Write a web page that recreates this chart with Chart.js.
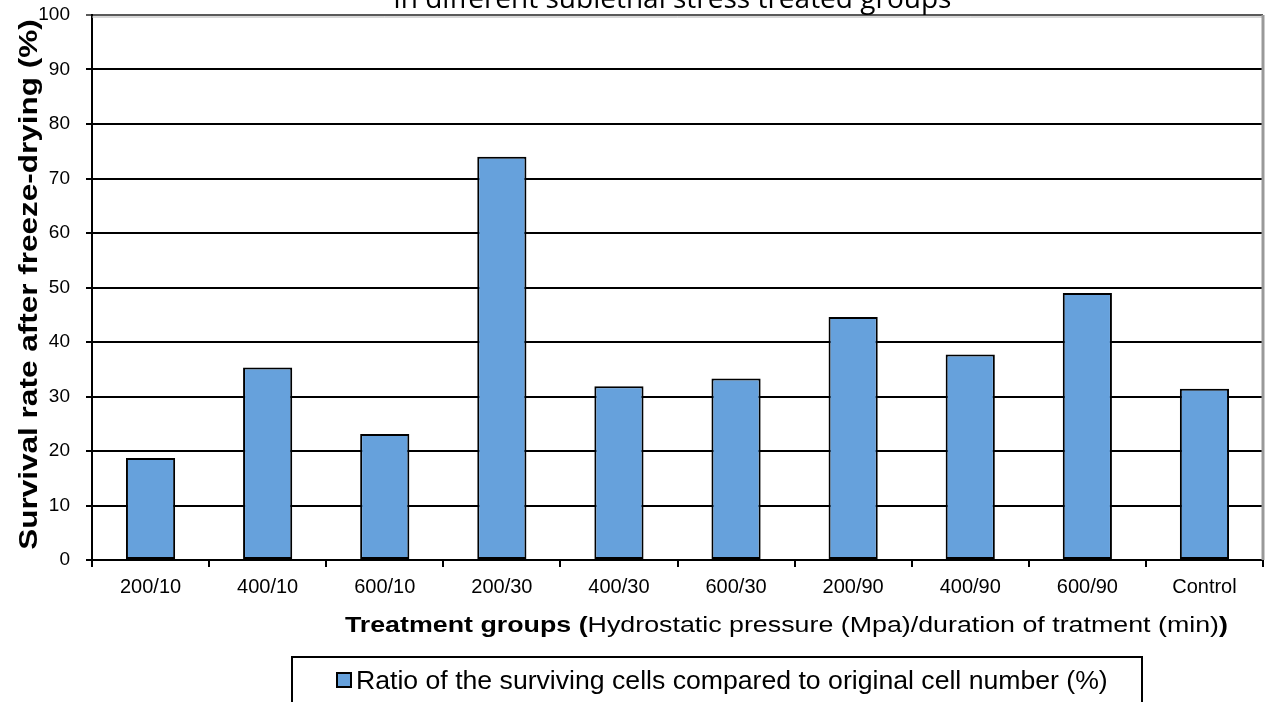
<!DOCTYPE html>
<html>
<head>
<meta charset="utf-8">
<script src="https://cdn.jsdelivr.net/npm/chart.js@4/dist/chart.umd.min.js"></script>
<style>
    html, body { margin: 0; padding: 0; background: #fff; }
    #wrap { width: 1273px; height: 702px; position: relative; }
</style>
</head>
<body>
<div id="wrap"><canvas id="survivalChart"></canvas></div>
<script>
// ========== DATOS ==========
const groups = ['200/10', '400/10', '600/10', '200/30', '400/30', '600/30', '200/90', '400/90', '600/90', 'Control'];
const survival = [18.7, 35.3, 23.1, 74.0, 31.9, 33.3, 44.6, 37.7, 49.0, 31.4];
const yTickValues = [0, 10, 20, 30, 40, 50, 60, 70, 80, 90, 100];
const seriesLabel = 'Ratio of the surviving cells compared to original cell number (%)';
const chartTitle = 'in different sublethal stress treated groups';
const yTitle = 'Survival rate after freeze-drying (%)';
const xTitleParts = [
    { text: 'Treatment groups (', bold: true },
    { text: 'Hydrostatic pressure (Mpa)/duration of tratment (min)', bold: false },
    { text: ')', bold: true }
];

const fuente = "'Liberation Sans', Arial, sans-serif";

// título cortado arriba (sólo se ve la parte baja)
const tituloCortado = {
    id: 'tituloCortado',
    afterDraw(chart) {
        const ctx = chart.ctx;
        const area = chart.chartArea;
        ctx.save();
        ctx.font = "28px 'Open Sans', sans-serif";
        ctx.fillStyle = '#000';
        ctx.textAlign = 'center';
        ctx.textBaseline = 'alphabetic';
        ctx.fillText(chartTitle, (area.left + area.right) / 2 - 5, 8);
        ctx.restore();
    }
};

// borde gris del área de trazado (arriba y derecha)
const bordeArea = {
    id: 'bordeArea',
    afterDraw(chart) {
        const ctx = chart.ctx;
        const area = chart.chartArea;
        ctx.save();
        ctx.strokeStyle = '#b0b0b0';
        ctx.lineWidth = 1;
        ctx.beginPath();
        ctx.moveTo(area.left, area.top + 2);
        ctx.lineTo(area.right, area.top + 2);
        ctx.stroke();
        ctx.strokeStyle = '#999';
        ctx.lineWidth = 3;
        ctx.beginPath();
        ctx.moveTo(area.right, area.top);
        ctx.lineTo(area.right, area.bottom);
        ctx.stroke();
        ctx.restore();
    }
};

// título del eje Y (girado, algo estirado como en el original)
const tituloEjeY = {
    id: 'tituloEjeY',
    afterDraw(chart) {
        const ctx = chart.ctx;
        const area = chart.chartArea;
        ctx.save();
        ctx.translate(30, (area.top + area.bottom) / 2 - 3);
        ctx.rotate(-Math.PI / 2);
        ctx.scale(1.26, 1);
        ctx.font = 'bold 25px ' + fuente;
        ctx.fillStyle = '#000';
        ctx.textAlign = 'center';
        ctx.textBaseline = 'middle';
        ctx.fillText(yTitle, 0, 0);
        ctx.restore();
    }
};

// título del eje X con partes en negrita
const tituloEjeX = {
    id: 'tituloEjeX',
    afterDraw(chart) {
        const ctx = chart.ctx;
        const area = chart.chartArea;
        const size = 22;
        const sx = 1.218;
        ctx.save();
        let total = 0;
        const anchos = xTitleParts.map(p => {
            ctx.font = (p.bold ? 'bold ' : '') + size + 'px ' + fuente;
            const w = ctx.measureText(p.text).width;
            total += w;
            return w;
        });
        ctx.translate(area.left + area.width * 0.593, area.bottom + 66);
        ctx.scale(sx, 1);
        let x = -total / 2;
        ctx.fillStyle = '#000';
        ctx.textBaseline = 'middle';
        ctx.textAlign = 'left';
        xTitleParts.forEach((p, i) => {
            ctx.font = (p.bold ? 'bold ' : '') + size + 'px ' + fuente;
            ctx.fillText(p.text, x, 0);
            x += anchos[i];
        });
        ctx.restore();
    }
};

// leyenda con caja (cortada abajo)
const leyendaCaja = {
    id: 'leyendaCaja',
    afterDraw(chart) {
        const ctx = chart.ctx;
        const area = chart.chartArea;
        const ds = chart.data.datasets[0];
        const top = area.bottom + 97;
        ctx.save();
        ctx.strokeStyle = '#000';
        ctx.lineWidth = 2;
        ctx.strokeRect(292, top, 850, 80);
        ctx.fillStyle = ds.backgroundColor;
        ctx.fillRect(337, top + 16, 14, 14);
        ctx.strokeRect(337, top + 16, 14, 14);
        ctx.translate(356, top + 25);
        ctx.scale(1.065, 1);
        ctx.font = '25px ' + fuente;
        ctx.fillStyle = '#000';
        ctx.textBaseline = 'middle';
        ctx.fillText(ds.label, 0, 0);
        ctx.restore();
    }
};

const ctx = document.getElementById('survivalChart').getContext('2d');

const survivalChart = new Chart(ctx, {
    type: 'bar',
    data: {
        labels: groups,
        datasets: [{
            label: seriesLabel,
            data: survival,
            backgroundColor: '#66A1DC',
            borderColor: '#000',
            borderWidth: 2,
            borderSkipped: false,
            barPercentage: 0.42,
            categoryPercentage: 1
        }]
    },
    options: {
        responsive: true,
        maintainAspectRatio: false,
        animation: false,
        layout: {
            padding: { top: 15, right: 10, left: 0, bottom: 0 }
        },
        plugins: {
            legend: { display: false },
            title: { display: false },
            tooltip: { enabled: false }
        },
        scales: {
            x: {
                grid: {
                    drawOnChartArea: false,
                    drawTicks: true,
                    tickLength: 7,
                    color: '#000',
                    lineWidth: 2,
                    offset: true
                },
                border: { color: '#000', width: 2 },
                ticks: {
                    color: '#000',
                    font: { family: fuente, size: 20 },
                    padding: 8,
                    maxRotation: 0
                },
                afterFit(scale) {
                    scale.height = 142;
                    scale.paddingLeft = 0;
                    scale.paddingRight = 0;
                }
            },
            y: {
                min: 0,
                max: 100,
                afterBuildTicks(scale) {
                    scale.ticks = yTickValues.map(v => ({ value: v }));
                },
                grid: {
                    color: c => (c.tick && c.tick.value === 100) ? '#5a5a5a' : '#000',
                    lineWidth: 2,
                    tickLength: 6
                },
                border: { color: '#000', width: 2 },
                ticks: {
                    color: '#000',
                    font: { family: fuente, size: 19 },
                    padding: 16
                },
                afterFit(scale) {
                    scale.width = 92;
                    scale.paddingTop = 0;
                    scale.paddingBottom = 0;
                }
            }
        }
    },
    plugins: [tituloCortado, bordeArea, tituloEjeY, tituloEjeX, leyendaCaja]
});
</script>
</body>
</html>
